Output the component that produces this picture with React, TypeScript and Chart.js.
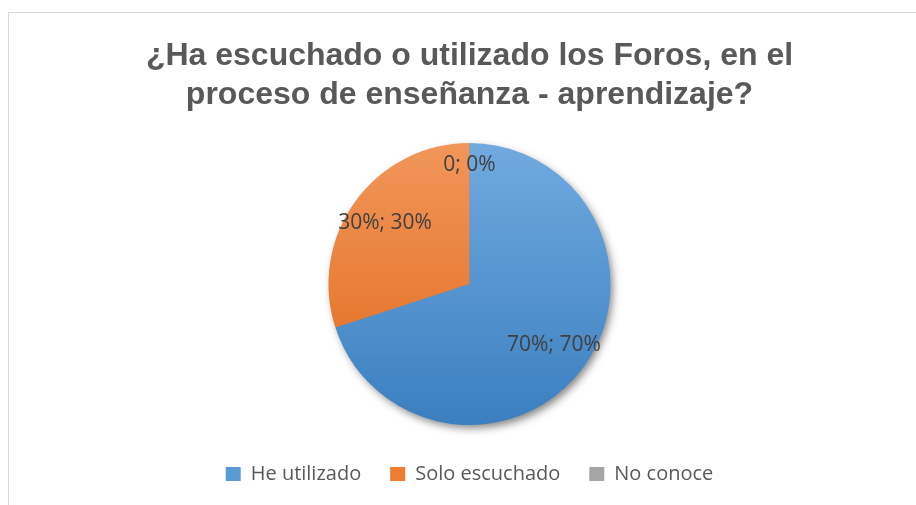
import { useEffect, useRef } from "react";
import { Chart, registerables } from "chart.js";

Chart.register(...registerables);

const categories = ["He utilizado", "Solo escuchado", "No conoce"];
const values = [70, 30, 0];
const dataLabels = ["70%; 70%", "30%; 30%", "0; 0%"];
const titleLines = [
  "¿Ha escuchado o utilizado los Foros, en el",
  "proceso de enseñanza - aprendizaje?",
];

const gradTop = ["#70aadf", "#f1965a", "#b3b3b3"];
const gradBottom = ["#3b7fc0", "#e2691b", "#8a8a8a"];
const legendColors = ["#5b9bd5", "#ed7d31", "#a5a5a5"];

export default function App() {
  const ref = useRef<HTMLCanvasElement>(null);

  useEffect(() => {
    const canvas = ref.current!;
    const RADIUS = 141;

    const shadowPlugin = {
      id: "pieShadow",
      beforeDatasetsDraw(chart: any) {
        const meta = chart.getDatasetMeta(0);
        const arc = meta.data[0];
        if (!arc) return;
        const { x, y, outerRadius } = arc.getProps(["x", "y", "outerRadius"], true);
        const ctx = chart.ctx;
        ctx.save();
        ctx.shadowColor = "rgba(0,0,0,0.5)";
        ctx.shadowBlur = 9;
        ctx.shadowOffsetX = 3;
        ctx.shadowOffsetY = 4;
        ctx.beginPath();
        ctx.arc(x, y, outerRadius - 1, 0, Math.PI * 2);
        ctx.fillStyle = "#4a8acb";
        ctx.fill();
        ctx.restore();
      },
    };

    const labelPlugin = {
      id: "sliceLabels",
      afterDatasetsDraw(chart: any) {
        const meta = chart.getDatasetMeta(0);
        const ctx = chart.ctx;
        ctx.save();
        ctx.font = "21px 'Open Sans'";
        ctx.fillStyle = "#404040";
        ctx.textAlign = "center";
        ctx.textBaseline = "middle";
        meta.data.forEach((el: any, i: number) => {
          const { x, y, startAngle, endAngle, outerRadius } = el.getProps(
            ["x", "y", "startAngle", "endAngle", "outerRadius"],
            true
          );
          const mid = (startAngle + endAngle) / 2;
          const f = values[i] === 0 ? 0.845 : 0.74;
          ctx.fillText(
            dataLabels[i],
            x + Math.cos(mid) * outerRadius * f,
            y + Math.sin(mid) * outerRadius * f
          );
        });
        ctx.restore();
      },
    };

    const chart = new Chart(canvas, {
      type: "pie",
      data: {
        labels: categories,
        datasets: [
          {
            data: values,
            borderWidth: 0,
            radius: RADIUS,
            backgroundColor: (c: any) => {
              const i = c.dataIndex ?? 0;
              const area = c.chart.chartArea;
              if (!area) return legendColors[i];
              const cy = (area.top + area.bottom) / 2;
              const g = c.chart.ctx.createLinearGradient(0, cy - RADIUS, 0, cy + RADIUS);
              g.addColorStop(0, gradTop[i]);
              g.addColorStop(1, gradBottom[i]);
              return g;
            },
          } as any,
        ],
      },
      options: {
        responsive: false,
        animation: false,
        layout: { padding: { left: 14, bottom: 11 } },
        plugins: {
          title: {
            display: true,
            text: titleLines,
            color: "#595959",
            font: { family: "'Liberation Sans', Arial, sans-serif", size: 32, weight: "bold", lineHeight: 1.22 },
            padding: { top: 24, bottom: 18 },
          },
          legend: {
            position: "bottom",
            labels: {
              font: { family: "'Open Sans', sans-serif", size: 20 },
              color: "#595959",
              boxWidth: 15,
              boxHeight: 14,
              padding: 29,
              generateLabels: () =>
                categories.map((t, i) => ({
                  text: t,
                  fillStyle: legendColors[i],
                  strokeStyle: legendColors[i],
                  lineWidth: 0,
                  hidden: false,
                  index: i,
                  fontColor: "#595959",
                })),
            },
          },
          tooltip: { enabled: false },
        },
      },
      plugins: [shadowPlugin, labelPlugin],
    });

    return () => chart.destroy();
  }, []);

  return (
    <div
      style={{
        position: "fixed",
        left: 8,
        top: 12,
        width: 908,
        height: 493,
        borderLeft: "1px solid #d9d9d9",
        borderTop: "1px solid #d9d9d9",
        background: "#fff",
        overflow: "hidden",
      }}
    >
      <canvas ref={ref} width={907} height={492} style={{ display: "block" }} />
    </div>
  );
}
